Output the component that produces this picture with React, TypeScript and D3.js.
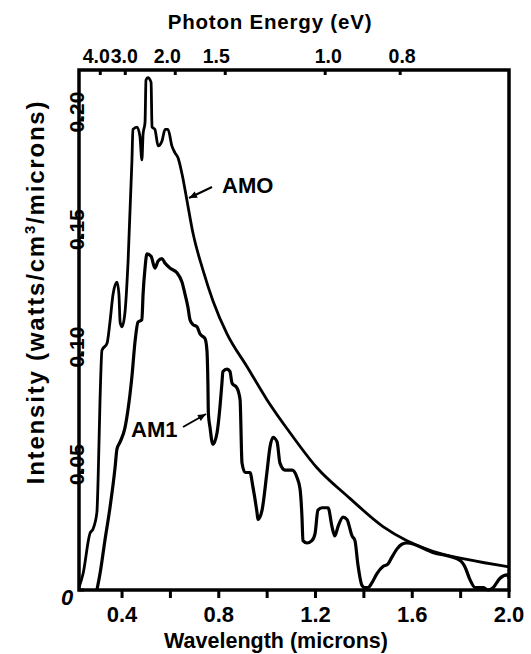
import React, { useEffect, useRef } from "react";
import * as d3 from "d3";

// Wavelength (microns) and intensity (W/cm^2/micron), AM0 spectrum
const am0Wavelength = [0.222, 0.239, 0.267, 0.28, 0.296, 0.301, 0.309, 0.317, 0.338, 0.35, 0.363, 0.379, 0.387, 0.392, 0.4, 0.412, 0.425, 0.441, 0.445, 0.462, 0.474, 0.482, 0.487, 0.495, 0.499, 0.507, 0.52, 0.524, 0.536, 0.549, 0.565, 0.578, 0.59, 0.606, 0.619, 0.631, 0.648, 0.668, 0.693, 0.735, 0.776, 0.834, 0.917, 0.999, 1.094, 1.206, 1.342, 1.479, 1.578, 1.685, 1.826, 2.0];
const am0Intensity = [0.001, 0.007, 0.024, 0.026, 0.033, 0.047, 0.081, 0.102, 0.105, 0.114, 0.126, 0.131, 0.126, 0.114, 0.112, 0.118, 0.14, 0.183, 0.196, 0.197, 0.193, 0.183, 0.194, 0.199, 0.217, 0.218, 0.216, 0.197, 0.196, 0.189, 0.191, 0.196, 0.196, 0.189, 0.186, 0.184, 0.177, 0.166, 0.152, 0.136, 0.123, 0.109, 0.095, 0.081, 0.067, 0.052, 0.039, 0.027, 0.021, 0.0165, 0.013, 0.0098];

// AM1 spectrum
const am1Wavelength = [0.296, 0.309, 0.329, 0.35, 0.371, 0.379, 0.392, 0.412, 0.425, 0.441, 0.454, 0.466, 0.482, 0.487, 0.495, 0.503, 0.52, 0.536, 0.549, 0.565, 0.578, 0.598, 0.627, 0.648, 0.66, 0.673, 0.681, 0.693, 0.71, 0.722, 0.743, 0.751, 0.755, 0.757, 0.764, 0.772, 0.776, 0.793, 0.805, 0.813, 0.817, 0.834, 0.846, 0.855, 0.875, 0.888, 0.896, 0.909, 0.929, 0.941, 0.958, 0.962, 0.979, 0.999, 1.012, 1.024, 1.041, 1.053, 1.074, 1.103, 1.123, 1.136, 1.144, 1.148, 1.165, 1.185, 1.198, 1.21, 1.227, 1.252, 1.268, 1.28, 1.293, 1.314, 1.33, 1.351, 1.363, 1.375, 1.392, 1.404, 1.417, 1.433, 1.454, 1.479, 1.499, 1.516, 1.537, 1.557, 1.578, 1.685, 1.797, 1.818, 1.839, 1.86, 1.893, 1.913, 1.934, 1.963, 1.992, 2.0];
const am1Intensity = [0, 0.007, 0.021, 0.035, 0.052, 0.06, 0.063, 0.069, 0.077, 0.091, 0.106, 0.114, 0.115, 0.126, 0.137, 0.143, 0.142, 0.137, 0.14, 0.141, 0.139, 0.137, 0.135, 0.131, 0.126, 0.12, 0.115, 0.113, 0.112, 0.109, 0.107, 0.102, 0.088, 0.075, 0.069, 0.063, 0.062, 0.067, 0.078, 0.088, 0.093, 0.094, 0.093, 0.088, 0.086, 0.081, 0.054, 0.05, 0.05, 0.044, 0.033, 0.03, 0.034, 0.05, 0.061, 0.065, 0.063, 0.054, 0.051, 0.051, 0.048, 0.043, 0.031, 0.021, 0.02, 0.021, 0.024, 0.034, 0.035, 0.035, 0.027, 0.023, 0.027, 0.031, 0.03, 0.023, 0.021, 0.011, 0.002, 0.001, 0.001, 0.003, 0.007, 0.01, 0.011, 0.014, 0.0175, 0.0195, 0.0200, 0.0160, 0.0126, 0.0098, 0.0043, 0.001, 0.001, 0, 0.001, 0.005, 0.0064, 0.005];

const xTicks = [0.4, 0.6, 0.8, 1.0, 1.2, 1.4, 1.6, 1.8, 2.0];
const xTickLabels = ["0.4", "0.8", "1.2", "1.6", "2.0"];
const yTicks = [0, 0.05, 0.1, 0.15, 0.2];
const yTickLabels = ["0.05", "0.10", "0.15", "0.20"];
const energyTicks = [4.0, 3.0, 2.0, 1.5, 1.0, 0.8];

const FONT = "'Liberation Sans', Arial, Helvetica, sans-serif";
// small horizontal nudges of the crowded top labels (as printed in the original)
const energyLabelNudge = [-4, -1, -8, -9, 3, 2];

export default function App() {
  const ref = useRef<SVGSVGElement>(null);

  useEffect(() => {
    const svg = d3.select(ref.current);
    svg.selectAll("*").remove();

    const left = 79, right = 509, top = 70, bottom = 590;
    const x = d3.scaleLinear().domain([0.222, 2.0]).range([left, right]);
    const y = d3.scaleLinear().domain([0, 0.2]).range([bottom, 120]);

    // frame
    svg.append("rect")
      .attr("x", left).attr("y", top)
      .attr("width", right - left).attr("height", bottom - top)
      .attr("fill", "none").attr("stroke", "#000").attr("stroke-width", 3.5);

    // bottom ticks (outward)
    svg.append("g").selectAll("line").data(xTicks).join("line")
      .attr("x1", d => x(d)).attr("x2", d => x(d))
      .attr("y1", bottom).attr("y2", bottom + 8)
      .attr("stroke", "#000").attr("stroke-width", 3);

    svg.append("g").selectAll("text").data(xTickLabels).join("text")
      .attr("x", d => x(+d)).attr("y", 622)
      .attr("text-anchor", "middle")
      .attr("font-family", FONT).attr("font-weight", "bold").attr("font-size", 22)
      .text(d => d);

    svg.append("text")
      .attr("x", 276).attr("y", 648)
      .attr("text-anchor", "middle")
      .attr("font-family", FONT).attr("font-weight", "bold").attr("font-size", 21.5)
      .text("Wavelength (microns)");

    // left ticks (inward)
    svg.append("g").selectAll("line").data(yTicks).join("line")
      .attr("x1", left).attr("x2", left + 5)
      .attr("y1", d => y(d)).attr("y2", d => y(d))
      .attr("stroke", "#000").attr("stroke-width", 3);

    svg.append("g").selectAll("text").data(yTickLabels).join("text")
      .attr("transform", d => `translate(84,${y(+d) - 8}) rotate(-90)`)
      .attr("text-anchor", "middle")
      .attr("font-family", FONT).attr("font-weight", "bold").attr("font-size", 21)
      .text(d => d);

    svg.append("text")
      .attr("x", 67).attr("y", 605)
      .attr("text-anchor", "middle")
      .attr("font-family", FONT).attr("font-weight", "bold").attr("font-style", "italic").attr("font-size", 22)
      .text("0");

    const yTitle = svg.append("text")
      .attr("transform", "translate(44,292) rotate(-90)")
      .attr("text-anchor", "middle")
      .attr("font-family", FONT).attr("font-weight", "bold").attr("font-size", 24)
      .attr("letter-spacing", 1.8);
    yTitle.append("tspan").text("Intensity (watts/cm");
    yTitle.append("tspan").attr("dy", -9).attr("font-size", 15).text("3");
    yTitle.append("tspan").attr("dy", 9).text("/microns)");

    // top energy axis
    const ex = (e: number) => x(1.24 / e);
    svg.append("g").selectAll("line").data(energyTicks).join("line")
      .attr("x1", d => ex(d)).attr("x2", d => ex(d))
      .attr("y1", top).attr("y2", top + 5)
      .attr("stroke", "#000").attr("stroke-width", 3);

    svg.append("g").selectAll("text").data(energyTicks).join("text")
      .attr("x", (d, i) => ex(d) + energyLabelNudge[i]).attr("y", 63)
      .attr("text-anchor", "middle")
      .attr("font-family", FONT).attr("font-weight", "bold").attr("font-size", 19.5)
      .text(d => d.toFixed(1));

    svg.append("text")
      .attr("x", 270).attr("y", 29)
      .attr("text-anchor", "middle")
      .attr("font-family", FONT).attr("font-weight", "bold").attr("font-size", 20.5)
      .attr("letter-spacing", 0.8)
      .text("Photon Energy (eV)");

    // curves
    const am0 = am0Wavelength.map((w, i) => [w, am0Intensity[i]] as [number, number]);
    const am1 = am1Wavelength.map((w, i) => [w, am1Intensity[i]] as [number, number]);
    const line = d3.line<[number, number]>()
      .x(d => x(d[0])).y(d => y(d[1]))
      .curve(d3.curveMonotoneX);

    svg.append("path").attr("d", line(am0)!)
      .attr("fill", "none").attr("stroke", "#000").attr("stroke-width", 2.8)
      .attr("stroke-linejoin", "round");
    svg.append("path").attr("d", line(am1)!)
      .attr("fill", "none").attr("stroke", "#000").attr("stroke-width", 3.2)
      .attr("stroke-linejoin", "round");

    // annotations
    const ann = [
      { label: "AMO", tx: 222, ty: 193, x1: 212, y1: 187, x2: 189, y2: 198 },
      { label: "AM1", tx: 131, ty: 437, x1: 183, y1: 427, x2: 206, y2: 414 },
    ];
    ann.forEach(a => {
      svg.append("text").attr("x", a.tx).attr("y", a.ty)
        .attr("font-family", FONT).attr("font-weight", "bold").attr("font-size", 22)
        .text(a.label);
      svg.append("line").attr("x1", a.x1).attr("y1", a.y1).attr("x2", a.x2).attr("y2", a.y2)
        .attr("stroke", "#000").attr("stroke-width", 2);
      const ang = Math.atan2(a.y2 - a.y1, a.x2 - a.x1);
      const L = 8, W = 3.5;
      const bx = a.x2 - L * Math.cos(ang), by = a.y2 - L * Math.sin(ang);
      const px = -Math.sin(ang) * W, py = Math.cos(ang) * W;
      svg.append("path")
        .attr("d", `M${a.x2},${a.y2}L${bx + px},${by + py}L${bx - px},${by - py}Z`)
        .attr("fill", "#000");
    });
  }, []);

  return (
    <svg ref={ref} width={531} height={654}
      style={{ position: "absolute", left: 0, top: 0, background: "#fff" }} />
  );
}
